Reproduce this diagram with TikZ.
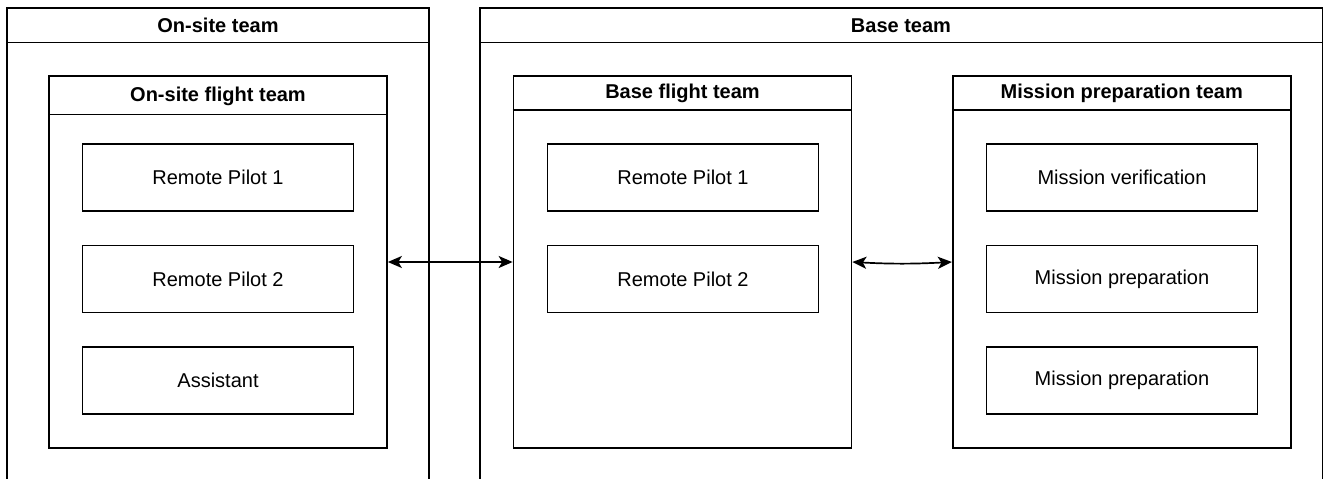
\documentclass[tikz,border=0pt]{standalone}
\usepackage{fontspec}
\setmainfont{Liberation Sans}
\usetikzlibrary{arrows.meta}
\begin{document}
\begin{tikzpicture}[x=1pt,y=-1pt,line width=1.7pt,
  txt/.style={font=\fontsize{20}{24}\selectfont},
  hdr/.style={font=\bfseries\fontsize{20}{24}\selectfont},
  member/.style={draw,rectangle,minimum width=271pt,minimum height=67pt,inner sep=0pt,txt},
  team/.style={draw,rectangle,minimum width=338pt,minimum height=372pt,inner sep=0pt},
  link/.style={{Stealth[length=14pt,width=12pt,inset=3.5pt]}-{Stealth[length=14pt,width=12pt,inset=3.5pt]},line width=1.7pt}
]
\useasboundingbox (0,0) rectangle (1325,479);

% outer containers (open at the bottom)
\draw (7,479) -- (7,8) -- (429,8) -- (429,479);
\draw (7,42.5) -- (429,42.5);
\node[hdr] (ost) at (218,25.5) {On-site team};
\draw (480,479) -- (480,8) -- (1322.5,8) -- (1322.5,479);
\draw (480,42.5) -- (1322.5,42.5);
\node[hdr] (bt) at (901,25.5) {Base team};

% inner teams
\node[team] (osf) at (218,262) {};
\draw (osf.north west |- 0,114.5) -- (osf.north east |- 0,114.5);
\node[hdr] at (218,96) {On-site flight team};

\node[team] (bft) at (682.5,262) {};
\draw (bft.north west |- 0,110) -- (bft.north east |- 0,110);
\node[hdr] at (682.5,93) {Base flight team};

\node[team] (mpt) at (1121.75,262) {};
\draw (mpt.north west |- 0,110) -- (mpt.north east |- 0,110);
\node[hdr] at (1121.75,93) {Mission preparation team};

% members
\node[member] (o1) at (218,177.5) {Remote Pilot 1};
\node[member] (o2) at (218,279) {Remote Pilot 2};
\node[member] (o3) at (218,380.5) {Assistant};

\node[member] (b1) at (683,177.5) {Remote Pilot 1};
\node[member] (b2) at (683,279) {Remote Pilot 2};

\node[member] (m1) at (1122,177.5) {Mission verification};
\node[member] (m2) at (1122,279) {Mission preparation};
\node[member] (m3) at (1122,380.5) {Mission preparation};

% connectors
\draw[link] (osf.east) -- (bft.west);
\draw[link] (bft.east) to[out=-3,in=183] (mpt.west);
\end{tikzpicture}
\end{document}
